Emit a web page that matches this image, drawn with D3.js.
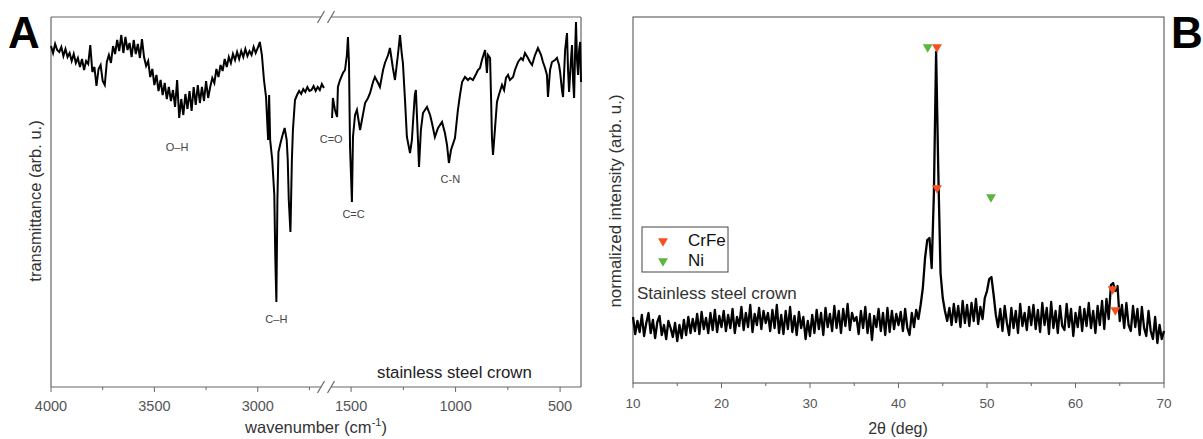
<!DOCTYPE html>
<html>
<head>
<meta charset="utf-8">
<script src="https://cdn.jsdelivr.net/npm/d3@7"></script>
<style>
  body { margin: 0; background: #fff; }
  svg { display: block; font-family: "Liberation Sans", Arial, sans-serif; }
  .tick-label { fill: #555; }
  .axis-title { fill: #333; }
  .band { fill: #444; font-size: 11px; }
  .panel-letter { fill: #000; font-size: 44px; font-weight: bold; }
</style>
</head>
<body>
<svg id="chart" width="1203" height="439"></svg>
<script>
/*
* FTIR (A) and XRD (B) of a stainless steel crown
*/

// ---- FTIR, high wavenumber part (before the axis break) ----
let irWaveHigh = [4000, 3990, 3980, 3970, 3960, 3950, 3940, 3930, 3920, 3910,
  3900, 3890, 3880, 3870, 3860, 3850, 3840, 3830, 3820, 3810,
  3800, 3790, 3780, 3770, 3760, 3750, 3740, 3730, 3720, 3710,
  3700, 3690, 3680, 3670, 3660, 3650, 3640, 3630, 3620, 3610,
  3600, 3590, 3580, 3570, 3560, 3550, 3540, 3530, 3520, 3510,
  3500, 3490, 3480, 3470, 3460, 3450, 3440, 3430, 3420, 3410,
  3400, 3390, 3380, 3370, 3360, 3350, 3340, 3330, 3320, 3310,
  3300, 3290, 3280, 3270, 3260, 3250, 3240, 3230, 3220, 3210,
  3200, 3190, 3180, 3170, 3160, 3150, 3140, 3130, 3120, 3110,
  3100, 3090, 3080, 3070, 3060, 3050, 3040, 3030, 3020, 3010,
  3000, 2990, 2980, 2970, 2960, 2950, 2945, 2940, 2930, 2920,
  2915, 2910, 2905, 2900, 2890, 2880, 2870, 2860, 2855, 2850,
  2842, 2835, 2830, 2820, 2810, 2800, 2790, 2780, 2770, 2760,
  2750, 2740, 2730, 2720, 2710, 2700, 2690, 2680];
let irTransHigh = [341, 334, 343, 337, 335, 340, 331, 338, 330, 334,
  326, 333, 324, 329, 320, 328, 317, 326, 323, 342,
  315, 320, 301, 318, 322, 306, 302, 325, 332, 324,
  341, 333, 347, 336, 352, 334, 350, 337, 344, 330,
  347, 333, 343, 329, 348, 330, 321, 326, 310, 318,
  302, 312, 296, 307, 292, 304, 288, 300, 286, 297,
  280, 307, 269, 288, 272, 293, 278, 296, 276, 300,
  282, 302, 284, 300, 286, 306, 289, 300, 309, 304,
  318, 310, 322, 316, 328, 320, 330, 324, 333, 327,
  335, 328, 336, 330, 338, 331, 336, 332, 340, 334,
  339, 345, 332, 307, 290, 247, 292, 247, 227, 192,
  127, 85, 187, 235, 244, 252, 259, 247, 227, 187,
  155, 227, 257, 287, 292, 296, 293, 298, 295, 300,
  296, 297, 301, 296, 300, 297, 303, 299];

// ---- FTIR, fingerprint part (after the break) ----
let irWaveLow = [1591, 1587, 1577, 1567, 1563, 1553, 1539, 1529, 1520, 1515,
  1510, 1505, 1496, 1491, 1481, 1472, 1457, 1448, 1433, 1419,
  1409, 1395, 1386, 1371, 1362, 1347, 1338, 1323, 1314, 1300,
  1290, 1276, 1266, 1257, 1252, 1242, 1233, 1218, 1209, 1204,
  1195, 1190, 1180, 1175, 1166, 1156, 1137, 1122, 1113, 1099,
  1084, 1065, 1051, 1041, 1032, 1022, 1003, 989, 979, 969,
  955, 941, 931, 917, 902, 893, 883, 874, 859, 850,
  845, 835, 830, 826, 821, 812, 802, 793, 778, 768,
  759, 749, 740, 725, 716, 701, 687, 678, 668, 654,
  644, 634, 620, 606, 591, 582, 572, 563, 558, 548,
  539, 524, 515, 505, 500, 491, 486, 476, 467, 462,
  457, 448, 443, 438, 433, 428, 424, 419, 414, 409,
  404, 400];
let irTransLow = [269, 289, 277, 270, 300, 307, 314, 317, 332, 350,
  324, 240, 185, 250, 272, 277, 257, 267, 284, 289,
  294, 305, 310, 304, 300, 317, 324, 332, 339, 319,
  307, 332, 352, 332, 324, 287, 250, 234, 247, 264,
  292, 297, 247, 220, 257, 274, 280, 272, 264, 250,
  259, 265, 254, 242, 224, 237, 249, 277, 292, 305,
  310, 307, 309, 307, 313, 317, 319, 327, 337, 314,
  332, 329, 287, 249, 232, 257, 285, 292, 302, 297,
  309, 312, 307, 310, 317, 325, 329, 327, 334, 329,
  325, 322, 332, 339, 332, 325, 319, 312, 290, 317,
  325, 327, 329, 322, 315, 297, 290, 337, 354, 317,
  295, 327, 342, 307, 289, 337, 365, 327, 312, 337,
  345, 305];

let irTicksHigh = [4000, 3500, 3000];
let irMinorHigh = [3750, 3250, 2750];
let irTicksLow = [1500, 1000, 500];
let irMinorLow = [1250, 750];

let irBands = [
  { label: 'O\u2013H', wave: 3390, t: 236 },
  { label: 'C\u2013H', wave: 2910, t: 64 },
  { label: 'C=O', wave: 1595, t: 244 },
  { label: 'C=C', wave: 1488, t: 169 },
  { label: 'C-N', wave: 1025, t: 204 }
];

// ---- XRD, 2theta from 10 to 70 deg in 0.25 deg steps ----
let xrdStep = 0.25;
let xrdIntensity = [66, 49, 62, 51, 68, 47, 60, 70, 50, 63, 45, 61, 67, 48, 58, 44, 62, 55, 46, 60, 42,
  58, 45, 63, 48, 66, 50, 64, 52, 69, 49, 71, 54, 65, 50, 70, 53, 73, 51, 67, 56,
  72, 52, 68, 55, 74, 50, 66, 57, 76, 53, 70, 56, 78, 51, 69, 58, 75, 54, 72, 60,
  70, 52, 73, 55, 78, 50, 68, 49, 72, 54, 76, 51, 67, 48, 71, 55, 66, 44, 62, 47,
  68, 50, 73, 54, 70, 48, 75, 56, 69, 52, 77, 55, 72, 50, 74, 57, 79, 53, 70, 62,
  66, 49, 72, 55, 76, 50, 69, 43, 67, 56, 74, 52, 70, 48, 75, 51, 72, 54, 69, 58,
  71, 52, 74, 55, 48, 70, 56, 73, 64, 78,
  95, 125, 143, 145, 115, 190, 331, 210, 110, 85, 72, 62,
  75, 58, 79, 61, 77, 56, 82, 60, 78, 57, 80, 62, 84, 59, 76, 64, 85, 92,
  104, 106, 88, 68,
  56, 74, 52, 77, 60, 48, 75, 55, 72, 50, 79, 57, 70, 53, 76, 58,
  78, 54, 73, 51, 80, 58, 75, 49, 81, 55, 72, 50, 77, 57, 53, 79, 56, 74, 47, 70,
  56, 76, 52, 74, 57, 80, 55, 72, 50, 77, 58, 82, 54, 84, 64,
  98, 100, 92, 97, 62,
  78, 55, 80, 58, 52, 77, 56, 74, 48, 76, 55, 47, 72, 52, 44, 66, 40, 58, 44, 52];
let xrdTicks = [10, 20, 30, 40, 50, 60, 70];
let xrdMinor = [15, 25, 35, 45, 55, 65];

let xrdPhases = ['CrFe', 'Ni'];
let xrdMarkers = [
  { phase: 'Ni', angle: 43.3, level: 336 },
  { phase: 'CrFe', angle: 44.35, level: 336 },
  { phase: 'CrFe', angle: 44.35, level: 195 },
  { phase: 'Ni', angle: 50.45, level: 186 },
  { phase: 'CrFe', angle: 64.2, level: 94 },
  { phase: 'CrFe', angle: 64.5, level: 73 }
];

let COLORS = {
  CrFe: '#f4511e',
  Ni: '#5cb53c',
  frame: '#666',
  trace: '#000'
};

let svg = d3.select('#chart');

drawFtir();
drawXrd();

function drawFtir() {
  let top = 17, bottom = 387, left = 51, right = 581, cut = 326;
  let xHigh = d3.scaleLinear().domain([4000, 2670]).range([left, cut]);
  let xLow = d3.scaleLinear().domain([1620, 400]).range([cut, right]);
  let y = d3.scaleLinear().domain([0, 370]).range([bottom, top]);
  let g = svg.append('g').attr('class', 'ftir');

  // frame with the break marks
  let gapA = 321, gapB = 331;
  let frame = [[left, top, left, bottom], [right, top, right, bottom],
    [left, bottom, gapA, bottom], [gapB, bottom, right, bottom],
    [left, top, gapA, top], [gapB, top, right, top]];
  g.selectAll('.frame').data(frame).enter().append('line')
    .attr('x1', d => d[0]).attr('y1', d => d[1])
    .attr('x2', d => d[2]).attr('y2', d => d[3])
    .attr('stroke', COLORS.frame).attr('stroke-width', 1.2);
  [bottom, top].forEach(function (yy) {
    [gapA, gapB].forEach(function (xx) {
      g.append('line')
        .attr('x1', xx - 3.5).attr('y1', yy + 6)
        .attr('x2', xx + 3.5).attr('y2', yy - 6)
        .attr('stroke', COLORS.frame).attr('stroke-width', 1.2);
    });
  });

  // ticks
  let ticks = irTicksHigh.map(v => ({ x: xHigh(v), v: v, len: 5 }))
    .concat(irTicksLow.map(v => ({ x: xLow(v), v: v, len: 5 })))
    .concat(irMinorHigh.map(v => ({ x: xHigh(v), len: 3 })))
    .concat(irMinorLow.map(v => ({ x: xLow(v), len: 3 })));
  g.selectAll('.tick').data(ticks).enter().append('line')
    .attr('x1', d => d.x).attr('x2', d => d.x)
    .attr('y1', bottom).attr('y2', d => bottom + d.len)
    .attr('stroke', COLORS.frame);
  g.selectAll('.tick-label').data(ticks.filter(d => d.v)).enter().append('text')
    .attr('class', 'tick-label')
    .attr('x', d => d.x).attr('y', 411)
    .attr('text-anchor', 'middle')
    .style('font-size', '14.5px')
    .text(d => d.v);

  // spectrum
  let line = scale => d3.line().x(d => scale(d[0])).y(d => y(d[1]));
  g.append('path')
    .datum(d3.zip(irWaveHigh, irTransHigh))
    .attr('d', line(xHigh))
    .attr('fill', 'none').attr('stroke', COLORS.trace).attr('stroke-width', 2);
  g.append('path')
    .datum(d3.zip(irWaveLow, irTransLow))
    .attr('d', line(xLow))
    .attr('fill', 'none').attr('stroke', COLORS.trace).attr('stroke-width', 2);

  g.selectAll('.band').data(irBands).enter().append('text')
    .attr('class', 'band')
    .attr('x', d => d.wave > 2000 ? xHigh(d.wave) : xLow(d.wave))
    .attr('y', d => y(d.t))
    .attr('text-anchor', 'middle')
    .text(d => d.label);

  g.append('text')
    .attr('x', 377).attr('y', 378)
    .attr('fill', '#222').style('font-size', '16.8px')
    .text('stainless steel crown');

  let xt = g.append('text').attr('class', 'axis-title')
    .attr('x', 316).attr('y', 433).attr('text-anchor', 'middle')
    .style('font-size', '16.5px');
  xt.append('tspan').text('wavenumber (cm');
  xt.append('tspan').attr('dy', -7).style('font-size', '11px').text('-1');
  xt.append('tspan').attr('dy', 7).text(')');

  g.append('text').attr('class', 'axis-title')
    .attr('transform', 'translate(41,201) rotate(-90)')
    .attr('text-anchor', 'middle')
    .style('font-size', '16.5px')
    .text('transmittance (arb. u.)');

  svg.append('text').attr('class', 'panel-letter')
    .attr('x', 8).attr('y', 48).text('A');
}

function drawXrd() {
  let top = 17, bottom = 383, left = 633, right = 1164;
  let x = d3.scaleLinear().domain([10, 70]).range([left, right]);
  let y = d3.scaleLinear().domain([0, 366]).range([bottom, top]);
  let g = svg.append('g').attr('class', 'xrd');

  g.append('rect')
    .attr('x', left).attr('y', top)
    .attr('width', right - left).attr('height', bottom - top)
    .attr('fill', 'none').attr('stroke', COLORS.frame).attr('stroke-width', 1.2);

  let ticks = xrdTicks.map(v => ({ v: v, len: 5 })).concat(xrdMinor.map(v => ({ v: v, len: 3 })));
  g.selectAll('.tick').data(ticks).enter().append('line')
    .attr('x1', d => x(d.v)).attr('x2', d => x(d.v))
    .attr('y1', bottom).attr('y2', d => bottom + d.len)
    .attr('stroke', COLORS.frame);
  g.selectAll('.tick-label').data(xrdTicks).enter().append('text')
    .attr('class', 'tick-label')
    .attr('x', d => x(d)).attr('y', 408)
    .attr('text-anchor', 'middle')
    .style('font-size', '13.5px')
    .text(d => d);

  let points = xrdIntensity.map((v, i) => [10 + i * xrdStep, v]);
  g.append('path')
    .datum(points)
    .attr('d', d3.line().x(d => x(d[0])).y(d => y(d[1])))
    .attr('fill', 'none').attr('stroke', COLORS.trace)
    .attr('stroke-width', 2.3).attr('stroke-linejoin', 'round');

  let tri = d3.symbol().type(d3.symbolTriangle).size(42);
  g.selectAll('.marker').data(xrdMarkers).enter().append('path')
    .attr('d', tri)
    .attr('transform', d => 'translate(' + x(d.angle) + ',' + y(d.level) + ') rotate(180)')
    .attr('fill', d => COLORS[d.phase]);

  // legend
  let lg = g.append('g').attr('transform', 'translate(642,227)');
  lg.append('rect').attr('width', 86).attr('height', 45)
    .attr('fill', '#fff').attr('stroke', '#444').attr('stroke-width', 1);
  xrdPhases.forEach(function (p, i) {
    lg.append('path').attr('d', tri)
      .attr('transform', 'translate(21,' + (14 + i * 20) + ') rotate(180)')
      .attr('fill', COLORS[p]);
    lg.append('text').attr('x', 46).attr('y', 19 + i * 20)
      .attr('fill', '#111').style('font-size', '17px').text(p);
  });

  g.append('text')
    .attr('x', 637).attr('y', 299)
    .attr('fill', '#333').style('font-size', '17px')
    .text('Stainless steel crown');

  g.append('text').attr('class', 'axis-title')
    .attr('x', 898).attr('y', 434).attr('text-anchor', 'middle')
    .style('font-size', '16px')
    .text('2\u03b8 (deg)');

  g.append('text').attr('class', 'axis-title')
    .attr('transform', 'translate(621,201) rotate(-90)')
    .attr('text-anchor', 'middle')
    .style('font-size', '16.9px')
    .text('normalized intensity (arb. u.)');

  svg.append('text').attr('class', 'panel-letter')
    .attr('x', 1171).attr('y', 48).text('B');
}
</script>
</body>
</html>
